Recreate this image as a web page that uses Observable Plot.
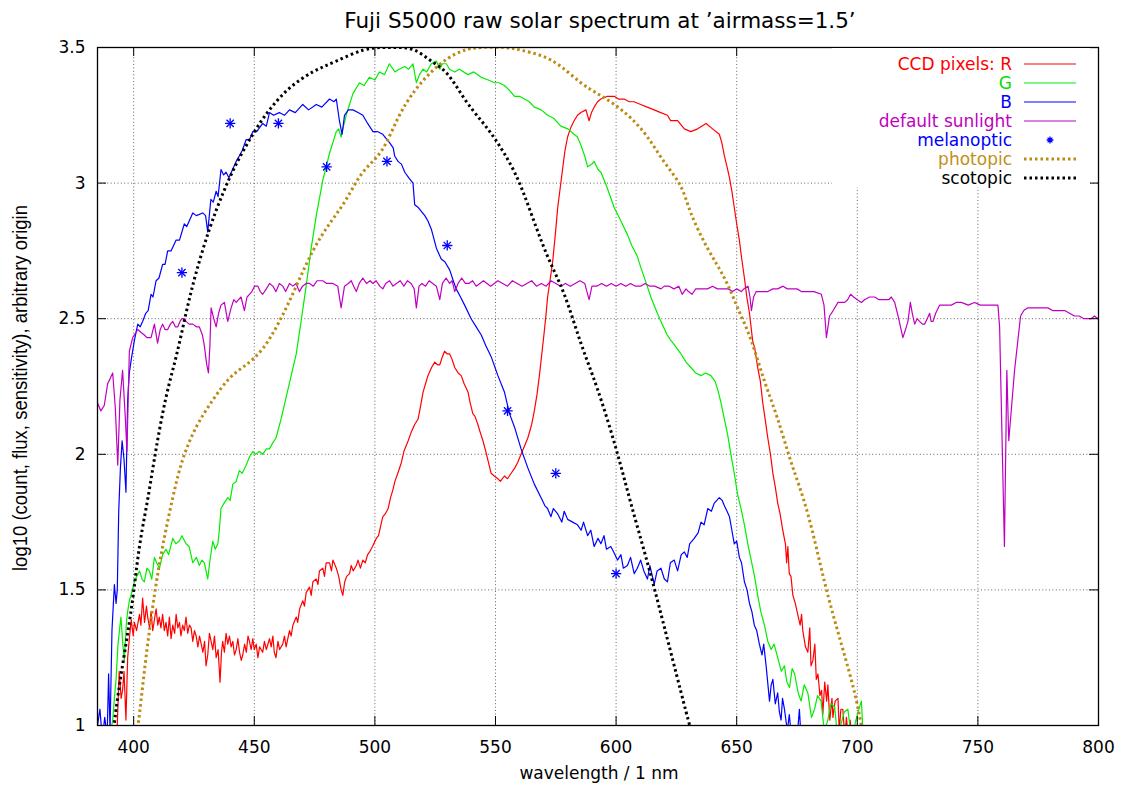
<!DOCTYPE html>
<html><head><meta charset="utf-8">
<script src="https://cdn.jsdelivr.net/npm/d3@7"></script>
<script src="https://cdn.jsdelivr.net/npm/@observablehq/plot@0.6"></script>
<style>
body{margin:0;background:#fff;}
#wrap{position:relative;width:1121px;height:785px;overflow:hidden;font-family:"DejaVu Sans",sans-serif;color:#000;}
#wrap svg{position:absolute;left:0;top:0;}
.abs{position:absolute;white-space:nowrap;}
</style></head>
<body><div id="wrap"></div>
<script>
// ---------- data (wavelength nm, log10 value) ----------
const xTicks = [400,450,500,550,600,650,700,750,800];
const yTicks = [1,1.5,2,2.5,3,3.5];

const ccdR = [[393,0.95],[393.5,1.08],[394,1.20],[394.8,1.10],[395.4,1.13],[396,1.20],[396.8,1.02],[397.5,1.25],[398.2,1.32],[399,1.39],[399.8,1.33],[400.3,1.38],[401.2,1.35],[402.4,1.41],[403,1.37],[403.7,1.47],[404.5,1.38],[405.3,1.44],[405.8,1.40],[406.6,1.36],[407.2,1.42],[407.9,1.35],[408.6,1.39],[409.3,1.43],[410,1.37],[410.6,1.40],[411.3,1.36],[412,1.41],[412.7,1.35],[413.4,1.38],[414.1,1.33],[414.8,1.40],[415.5,1.32],[416.2,1.37],[417,1.34],[417.6,1.41],[418.3,1.36],[419,1.38],[419.6,1.33],[420.3,1.37],[421,1.35],[421.7,1.40],[422.4,1.34],[423.1,1.37],[423.8,1.36],[424.5,1.31],[425.2,1.35],[425.9,1.33],[426.6,1.29],[427.3,1.33],[428,1.30],[428.7,1.27],[429.4,1.31],[430,1.22],[430.7,1.26],[431.4,1.34],[432.1,1.31],[432.8,1.28],[433.5,1.33],[434.2,1.25],[435,1.28],[435.8,1.16],[436.4,1.27],[436.9,1.31],[437.6,1.27],[438.3,1.34],[439,1.30],[439.7,1.33],[440.4,1.29],[441.1,1.31],[441.8,1.26],[442.5,1.28],[443.2,1.32],[443.9,1.27],[444.6,1.24],[445.2,1.26],[446,1.30],[446.7,1.27],[447.4,1.33],[448,1.31],[448.7,1.28],[449.4,1.32],[450,1.28],[450.8,1.30],[451.5,1.25],[452.2,1.29],[453.5,1.27],[454.2,1.31],[455,1.28],[456.3,1.32],[457,1.29],[457.7,1.33],[458.3,1.27],[459,1.25],[459.8,1.31],[460.5,1.28],[461.8,1.30],[462.5,1.33],[463.2,1.29],[464.6,1.35],[465.3,1.33],[466,1.37],[467.4,1.40],[468,1.38],[468.8,1.43],[470.1,1.46],[470.8,1.44],[471.5,1.49],[472.9,1.51],[473.6,1.48],[474.3,1.53],[475.7,1.54],[476.4,1.52],[477,1.57],[478.4,1.58],[479.1,1.55],[479.8,1.60],[481.2,1.60],[482,1.57],[482.6,1.61],[484,1.58],[485,1.55],[486,1.50],[486.7,1.48],[487.5,1.53],[488.3,1.55],[489.5,1.56],[490.2,1.59],[491,1.57],[492.3,1.59],[493,1.61],[494,1.58],[495,1.61],[496,1.60],[497,1.63],[497.8,1.64],[499,1.66],[500.6,1.69],[501.5,1.70],[502.5,1.74],[503.3,1.77],[504.3,1.78],[505.5,1.80],[506.5,1.84],[507.5,1.87],[508.3,1.90],[509.5,1.93],[511,1.97],[512,2.01],[513.8,2.05],[515,2.08],[516.5,2.11],[517.9,2.13],[519,2.18],[520,2.23],[521,2.26],[522,2.29],[523.5,2.32],[524.8,2.34],[526,2.33],[526.9,2.33],[528,2.36],[528.9,2.38],[530,2.37],[531,2.37],[532,2.35],[533.1,2.32],[534.5,2.30],[535.8,2.29],[537,2.26],[538.6,2.23],[539.5,2.19],[540.6,2.15],[541.5,2.14],[542.7,2.11],[543.7,2.08],[544.8,2.05],[546,2.01],[546.8,1.98],[548.2,1.93],[549.5,1.92],[551,1.91],[552,1.90],[553.7,1.92],[555,1.91],[556.5,1.93],[558,1.95],[559.2,1.97],[560.6,2.00],[562,2.03],[563.4,2.06],[565,2.11],[566.1,2.16],[567.2,2.22],[568.2,2.29],[569.2,2.37],[570.2,2.45],[571,2.52],[571.6,2.58],[572.6,2.64],[573.7,2.71],[574.8,2.81],[575.8,2.91],[576.8,2.98],[577.8,3.05],[578.8,3.12],[579.9,3.17],[581,3.20],[582.6,3.23],[584,3.25],[585.4,3.26],[587.5,3.27],[588.8,3.23],[589.8,3.26],[590.9,3.28],[592.3,3.30],[593.7,3.31],[596.4,3.32],[599.2,3.32],[601,3.31],[603.3,3.31],[605.5,3.30],[607.4,3.30],[610.2,3.29],[612.9,3.28],[615.8,3.27],[618.5,3.26],[621.3,3.25],[622.6,3.23],[625.5,3.23],[628.3,3.20],[631,3.19],[633.8,3.20],[635.5,3.21],[637.3,3.22],[640,3.20],[642.8,3.18],[643.8,3.15],[644.9,3.10],[646,3.06],[647,3.02],[648,2.97],[649,2.91],[650,2.85],[651.1,2.79],[652.1,2.72],[653.2,2.65],[654.2,2.58],[655.3,2.52],[656.6,2.42],[657.5,2.39],[658.7,2.32],[659.8,2.27],[660.8,2.19],[661.8,2.13],[662.9,2.06],[664,2.00],[665,1.93],[666,1.88],[667,1.82],[668,1.78],[669.1,1.72],[670.2,1.67],[670.7,1.60],[671.2,1.66],[671.8,1.56],[672.5,1.55],[673.3,1.48],[674.3,1.45],[675.3,1.41],[676.3,1.37],[676.9,1.41],[677.4,1.35],[678.5,1.29],[679.5,1.27],[680.3,1.36],[680.8,1.22],[681.6,1.24],[682.4,1.30],[683,1.17],[683.7,1.19],[684.5,1.11],[685.2,1.13],[685.7,1.04],[686.5,1.16],[687.3,1.09],[687.8,1.15],[688.6,1.02],[689.5,1.10],[689.9,1.03],[690.8,1.09],[692,1.10],[692.5,0.98],[693.2,1.06],[694,1.06],[694.8,0.96],[695.5,1.03],[696.3,0.95],[697,1.02],[698,0.95],[700,0.9],[713.5,0.9],[714,1.0],[714.5,0.9]];

const ccdG = [[390,0.95],[391.3,1.02],[392,1.10],[392.7,1.17],[393.5,1.30],[394.7,1.40],[395.5,1.30],[396.1,1.24],[397,1.38],[397.5,1.42],[398.2,1.46],[398.9,1.48],[400.3,1.53],[401.3,1.55],[402.4,1.57],[403.5,1.54],[404.4,1.53],[405.5,1.58],[406.5,1.57],[407.5,1.54],[408.6,1.62],[409.5,1.60],[410.7,1.58],[412,1.63],[413.4,1.65],[414.5,1.63],[416.2,1.69],[417.5,1.67],[418.9,1.68],[420,1.70],[421.7,1.67],[423,1.66],[424.5,1.60],[426,1.62],[427.2,1.59],[428.3,1.61],[429.3,1.60],[430,1.57],[430.7,1.54],[431.5,1.60],[432.8,1.68],[433.8,1.65],[434.9,1.67],[435.5,1.72],[436.2,1.80],[437.5,1.82],[439,1.84],[440,1.83],[441.1,1.89],[442.5,1.90],[443.8,1.94],[445,1.93],[446.6,1.96],[448,1.99],[449.4,2.01],[450.5,2.00],[452.1,2.01],[453.5,2.00],[455,2.02],[456.3,2.02],[457.5,2.04],[459,2.06],[461.1,2.13],[463.2,2.21],[465.3,2.29],[467.4,2.37],[469.4,2.49],[471.5,2.62],[473.6,2.76],[475.7,2.88],[478.4,3.01],[481.2,3.11],[484,3.19],[485,3.20],[486,3.17],[487,3.21],[488.1,3.25],[490.9,3.33],[493.6,3.37],[495.5,3.36],[497.7,3.39],[500,3.38],[501.9,3.41],[504,3.40],[506,3.44],[508.3,3.41],[510,3.42],[512.4,3.43],[514,3.42],[515.8,3.44],[517.2,3.37],[518.5,3.40],[520,3.42],[521.5,3.41],[523.4,3.44],[525.5,3.45],[526.9,3.42],[528,3.44],[529.6,3.44],[531,3.42],[533.1,3.41],[535,3.42],[538.6,3.40],[541,3.41],[544.1,3.39],[547,3.38],[549.6,3.37],[551.5,3.37],[553.7,3.36],[556,3.34],[557.9,3.32],[560,3.32],[562,3.31],[564,3.30],[566.1,3.28],[569,3.27],[571.6,3.25],[574,3.24],[577.1,3.21],[580,3.20],[582.6,3.18],[584,3.17],[585.4,3.14],[587,3.10],[588.2,3.06],[590,3.07],[590.9,3.08],[592.5,3.05],[593.7,3.04],[596,2.99],[599.2,2.91],[602,2.86],[604.7,2.81],[606.5,2.77],[608.8,2.73],[610.2,2.69],[612.9,2.62],[614.4,2.58],[617.1,2.52],[618.6,2.49],[621.2,2.44],[622.7,2.42],[624.5,2.40],[626.9,2.37],[629,2.34],[631,2.32],[633,2.30],[635.2,2.29],[637,2.30],[639.3,2.29],[641,2.27],[642.1,2.24],[643.5,2.19],[644.9,2.13],[646.3,2.07],[647.6,2.00],[649,1.93],[650.4,1.85],[651.8,1.80],[653.2,1.74],[654.6,1.67],[656,1.61],[657.4,1.55],[658.7,1.48],[660,1.42],[661.5,1.37],[662.9,1.31],[664.3,1.28],[665.5,1.30],[667,1.25],[668.5,1.20],[669.8,1.22],[670.8,1.16],[671.9,1.14],[673,1.21],[674,1.19],[675.5,1.12],[676.7,1.09],[678,1.15],[679.5,1.12],[681,1.03],[682.3,1.06],[683.5,1.11],[685,1.09],[686.3,0.98],[687.8,1.02],[689,1.08],[690.6,1.07],[691.8,0.96],[693.4,1.01],[694.6,1.05],[696.1,1.06],[697.3,0.97],[698.9,1.00],[700.3,1.05],[701.7,1.09],[702.5,0.95],[704,0.9],[706,0.99],[707,0.9],[709.5,0.9],[710.3,0.99],[711,0.9],[715,0.85]];

const ccdB = [[385,1.0],[386,1.06],[387,0.95],[388,1.03],[389,0.96],[389.6,1.19],[390.2,0.98],[391,1.35],[392,1.52],[392.7,1.45],[393.2,1.50],[393.8,1.79],[394.5,1.95],[395.2,2.05],[396,1.98],[396.8,1.86],[397.5,2.2],[398.2,2.3],[399,2.35],[400.3,2.42],[401.7,2.48],[402.7,2.47],[403.7,2.49],[405,2.52],[406,2.53],[407.2,2.59],[408,2.58],[409.3,2.64],[410.5,2.65],[412,2.70],[413,2.70],[414.1,2.75],[415.5,2.75],[417.6,2.79],[419,2.79],[421,2.85],[422,2.84],[424.5,2.89],[426,2.88],[428.6,2.89],[429.8,2.88],[430.7,2.82],[432,2.94],[433,2.93],[434.2,2.97],[435,2.95],[436.2,3.05],[437.3,3.03],[438.3,3.04],[439.5,3.02],[441,3.05],[442.5,3.08],[443.8,3.10],[445,3.12],[446.6,3.16],[448,3.16],[449.4,3.19],[451,3.19],[453.5,3.22],[455,3.21],[456.3,3.26],[458,3.25],[460.4,3.26],[462.5,3.25],[464.6,3.27],[467,3.26],[470.1,3.29],[472.5,3.27],[475.7,3.29],[478,3.28],[481.2,3.31],[483,3.30],[484,3.31],[485.3,3.23],[486.4,3.18],[487.4,3.25],[489,3.27],[490.9,3.27],[493,3.26],[495,3.25],[497,3.22],[499.2,3.19],[501,3.19],[503.3,3.18],[505,3.16],[506,3.15],[507.6,3.13],[508.2,3.10],[509.6,3.08],[511,3.07],[512.4,3.04],[514,3.02],[515.8,3.00],[516.5,2.92],[518,2.91],[520.7,2.88],[522,2.86],[523.4,2.83],[525.5,2.76],[527.5,2.72],[529,2.71],[531,2.68],[532.5,2.64],[533.7,2.61],[535.5,2.58],[537.2,2.55],[539.9,2.50],[542,2.47],[544.1,2.44],[546,2.40],[548.2,2.36],[551,2.29],[553.7,2.23],[555.8,2.15],[557.9,2.10],[560.6,2.02],[563.4,1.95],[566.1,1.89],[568.9,1.84],[570.5,1.81],[571.6,1.80],[573,1.77],[574,1.80],[575.8,1.78],[577.5,1.75],[578.5,1.79],[579.9,1.76],[582,1.75],[584,1.74],[585.5,1.72],[586.5,1.75],[588.2,1.70],[589.5,1.72],[590.9,1.66],[592.5,1.69],[593.7,1.67],[595,1.70],[596,1.65],[597.8,1.66],[599,1.64],[600.6,1.61],[602,1.63],[603,1.58],[604.7,1.59],[606,1.62],[607.5,1.56],[608.8,1.58],[610.2,1.61],[611.5,1.57],[613,1.54],[614,1.59],[615.8,1.52],[617,1.57],[618.6,1.58],[620,1.54],[621.3,1.53],[622.5,1.60],[624.1,1.61],[625.5,1.57],[627,1.63],[628.3,1.64],[629.5,1.62],[630.5,1.67],[632.4,1.69],[634,1.71],[635.2,1.75],[636.5,1.74],[638,1.80],[639.5,1.79],[640.7,1.82],[642.8,1.84],[644,1.83],[644.9,1.81],[646,1.79],[647,1.77],[648,1.72],[649,1.67],[650,1.68],[651.1,1.62],[652,1.60],[653.2,1.53],[654.3,1.50],[655.3,1.45],[656.3,1.42],[657.3,1.37],[658.3,1.35],[659.4,1.30],[660.5,1.26],[661.2,1.30],[662.2,1.22],[663.6,1.09],[664.3,1.15],[665,1.17],[666,1.08],[667,1.12],[667.7,1.05],[668.4,1.02],[669,1.10],[669.8,1.06],[671,0.98],[671.8,1.04],[672.6,0.97],[674,0.9],[675,0.95],[676,1.06],[677,0.9],[680,0.85]];

const sunlight = [[385,2.19],[386.4,2.16],[387.8,2.18],[389.2,2.26],[390.3,2.28],[391.3,2.30],[392.4,2.17],[393.4,1.96],[394.3,2.20],[395.4,2.31],[396.5,2.14],[397.2,2.01],[398.2,2.38],[399.6,2.43],[401.7,2.46],[403,2.45],[404.4,2.44],[405.5,2.43],[407.2,2.43],[408.6,2.48],[409.9,2.41],[411,2.46],[412,2.48],[413,2.46],[414.1,2.46],[415.2,2.48],[416.2,2.49],[417.3,2.47],[418.3,2.47],[419.2,2.49],[420,2.50],[421,2.50],[421.7,2.49],[423,2.48],[424.5,2.48],[426,2.47],[427.2,2.47],[428.5,2.44],[429.3,2.40],[430.3,2.33],[431,2.30],[431.6,2.40],[432.1,2.54],[433.2,2.50],[434.2,2.47],[435.2,2.52],[436.2,2.55],[437.6,2.56],[439,2.49],[440.4,2.54],[441.5,2.57],[442.5,2.56],[443.5,2.57],[444.5,2.58],[445.9,2.53],[447,2.58],[448,2.59],[449,2.60],[450.1,2.62],[451.5,2.62],[452.5,2.60],[453.5,2.59],[455,2.61],[456.3,2.63],[457.7,2.62],[459,2.60],[460.4,2.63],[461.8,2.62],[463,2.60],[464.6,2.63],[466,2.62],[467.3,2.63],[468.7,2.60],[470,2.62],[471.5,2.63],[472.9,2.63],[474.5,2.62],[476,2.64],[478.4,2.64],[480,2.63],[482.6,2.63],[484.6,2.62],[486,2.54],[487.4,2.62],[489,2.63],[490.2,2.64],[491.2,2.62],[492.3,2.60],[493.5,2.63],[495,2.65],[496.5,2.63],[498,2.64],[499.2,2.63],[500.5,2.64],[502,2.62],[503.3,2.61],[504.5,2.63],[506.1,2.64],[507.5,2.62],[508.9,2.63],[510.5,2.64],[512,2.62],[513.5,2.64],[515,2.63],[516.3,2.61],[517.2,2.54],[518.3,2.62],[519.5,2.63],[521,2.62],[522.5,2.64],[524,2.63],[525.5,2.62],[526.9,2.57],[528,2.63],[529.5,2.65],[531,2.63],[532,2.64],[533.1,2.60],[534.5,2.63],[536,2.65],[537.5,2.63],[539,2.63],[540.5,2.64],[542,2.62],[543.5,2.63],[545,2.64],[546.5,2.63],[548,2.62],[549.5,2.63],[551,2.64],[553,2.63],[555,2.62],[557,2.64],[559,2.63],[561,2.62],[563,2.63],[565,2.64],[567,2.62],[569,2.63],[571,2.62],[573,2.64],[575,2.63],[577,2.62],[579,2.63],[581,2.62],[583,2.63],[585,2.64],[587,2.63],[588.8,2.57],[590,2.62],[592,2.62],[594,2.63],[596,2.62],[598,2.63],[600,2.62],[602,2.63],[604,2.62],[606,2.63],[608,2.62],[610.2,2.62],[612,2.63],[614,2.62],[616,2.62],[618.6,2.61],[620,2.62],[622,2.62],[624,2.61],[626,2.62],[627.4,2.59],[629,2.61],[630,2.60],[631.5,2.59],[633,2.61],[635,2.61],[637.9,2.61],[640,2.62],[642,2.61],[644.9,2.61],[646.5,2.61],[648.3,2.60],[650,2.61],[651.9,2.60],[653,2.61],[654.7,2.62],[655.5,2.58],[656.1,2.53],[657,2.58],[658.1,2.60],[660,2.60],[662.9,2.60],[665,2.61],[667,2.61],[669.2,2.62],[671,2.61],[673,2.61],[675,2.61],[676.8,2.60],[679.5,2.60],[682,2.60],[685.1,2.59],[686.2,2.55],[687.2,2.43],[688.5,2.51],[690,2.53],[692,2.56],[693.4,2.56],[694.8,2.56],[696,2.57],[697.2,2.59],[698.5,2.58],[700,2.57],[701.7,2.56],[703,2.57],[705.1,2.58],[707.2,2.58],[709,2.57],[711.3,2.57],[713,2.57],[714.1,2.58],[715.5,2.56],[716.9,2.51],[717.9,2.47],[718.9,2.43],[720,2.46],[721,2.49],[722,2.56],[722.8,2.52],[723.8,2.48],[724.8,2.50],[725.8,2.49],[727,2.48],[727.9,2.48],[729,2.50],[730,2.52],[730.6,2.49],[731.4,2.49],[732.5,2.52],[734.1,2.55],[736,2.55],[739,2.55],[741,2.56],[743.1,2.56],[746,2.55],[748.6,2.56],[751,2.55],[752.8,2.55],[756,2.55],[758.3,2.55],[759,2.47],[761,1.66],[762,2.31],[762.8,2.05],[765.2,2.31],[767.7,2.51],[769,2.53],[770.7,2.54],[773,2.54],[776.2,2.54],[779,2.54],[781,2.53],[783.1,2.53],[786,2.53],[788,2.52],[790,2.51],[792,2.51],[794,2.50],[795.6,2.50],[797,2.50],[798.3,2.51],[799.7,2.50],[800,2.50]];

const melanopticNm  = [420,440,460,480,505,530,555,575,600];
const melanopticVal = [2.67,3.22,3.22,3.06,3.08,2.77,2.16,1.93,1.56];

const photopic = [[401,0.95],[402.5,1.05],[405.1,1.25],[408.6,1.48],[412,1.66],[416.2,1.84],[420.3,1.98],[425.9,2.10],[432.8,2.20],[439.7,2.28],[446.6,2.33],[453.5,2.39],[460.4,2.49],[467.4,2.62],[474.3,2.75],[481.2,2.85],[488.1,2.94],[495,3.04],[502.8,3.12],[509.6,3.24],[516.5,3.34],[523.4,3.41],[530.3,3.46],[537.2,3.49],[544.1,3.50],[553.7,3.50],[560.6,3.49],[568.9,3.47],[577.1,3.43],[585.4,3.37],[592.3,3.33],[599.2,3.29],[606.1,3.24],[613,3.17],[619.8,3.08],[626.7,2.99],[631,2.89],[637.9,2.76],[644.9,2.65],[650.4,2.54],[656,2.42],[661.5,2.27],[667,2.13],[672.6,1.97],[679.5,1.78],[686.4,1.53],[693.4,1.30],[698.9,1.12],[701.7,1.0],[703,0.95]];

const scotopic = [[391.5,0.97],[392.7,1.06],[395,1.20],[398.2,1.38],[400.5,1.53],[402.4,1.66],[404.5,1.77],[406.5,1.87],[409.3,2.02],[413.4,2.21],[417.6,2.36],[421.7,2.52],[425.9,2.67],[431.4,2.83],[436.9,2.96],[442.5,3.07],[449.4,3.18],[456.3,3.27],[464.6,3.35],[474.3,3.41],[484,3.45],[495,3.49],[503,3.50],[509.6,3.50],[516.5,3.49],[523.4,3.45],[530.3,3.40],[537.2,3.31],[544.1,3.23],[550,3.16],[557.9,3.04],[564.7,2.89],[571.6,2.73],[578.5,2.59],[585.4,2.41],[592.3,2.24],[600,2.02],[606.1,1.82],[613,1.60],[619.8,1.37],[626.7,1.13],[630.5,1.0],[632,0.95]];

const titleText = "Fuji S5000 raw solar spectrum at \u2019airmass=1.5\u2019";
const xLabel = "wavelength / 1 nm";
const yLabel = "log10 (count, flux, sensitivity), arbitrary origin";
const legendLabels = ["CCD pixels: R","G","B","default sunlight","melanoptic","photopic","scotopic"];

// ---------- styling ----------
const cR="#ff0000", cG="#00ee00", cB="#0000ff", cSun="#c000c0", cPhot="#bb8a10", cScot="#000000";
const legendColors = [cR,"#00dd00",cB,cSun,cB,"#c09020",cScot];
const legendKinds = ["line","line","line","line","star","dots","dots"];
const legendStroke = [cR,cG,cB,cSun,cB,cPhot,cScot];

const W=1121, H=785, mL=97, mR=23, mT=47, mB=60;
const pw = W-mL-mR, ph = H-mT-mB, tk = 9;

const mel = melanopticNm.map((x,i)=>({x, y: melanopticVal[i]}));
const px = d=>d[0], py = d=>d[1];
const gridStyle = {stroke:"#666", strokeOpacity:1, strokeWidth:1, strokeDasharray:"1,2.4"};

const chart = Plot.plot({
  width: W, height: H, marginLeft: mL, marginRight: mR, marginTop: mT, marginBottom: mB,
  x: {domain: [385, 800]},
  y: {domain: [1, 3.5]},
  style: {fontFamily: "'DejaVu Sans', sans-serif", fontSize: "17px", color: "#000", background: "#fff", overflow: "visible"},
  marks: [
    Plot.gridX(xTicks, gridStyle),
    Plot.gridY(yTicks, gridStyle),
    Plot.line(ccdR, {x: px, y: py, stroke: cR, strokeWidth: 1.2, clip: true}),
    Plot.line(ccdG, {x: px, y: py, stroke: cG, strokeWidth: 1.2, clip: true}),
    Plot.line(ccdB, {x: px, y: py, stroke: cB, strokeWidth: 1.2, clip: true}),
    Plot.line(sunlight, {x: px, y: py, stroke: cSun, strokeWidth: 1.2, clip: true}),
    Plot.dot(mel, {x: "x", y: "y", symbol: "plus", r: 3.4, stroke: cB, strokeWidth: 1.3}),
    Plot.dot(mel, {x: "x", y: "y", symbol: "times", r: 3.4, stroke: cB, strokeWidth: 1.3}),
    Plot.line(photopic, {x: px, y: py, stroke: cPhot, strokeWidth: 3, strokeDasharray: "2.5,3", strokeLinecap: "butt", curve: "natural", clip: true}),
    Plot.line(scotopic, {x: px, y: py, stroke: cScot, strokeWidth: 3, strokeDasharray: "2.5,3", strokeLinecap: "butt", curve: "natural", clip: true}),
    // inward ticks on all four sides
    Plot.ruleX(xTicks, {x: d=>d, insetTop: ph - tk, stroke: "#000"}),
    Plot.ruleX(xTicks, {x: d=>d, insetBottom: ph - tk, stroke: "#000"}),
    Plot.ruleY(yTicks, {y: d=>d, insetRight: pw - tk, stroke: "#000"}),
    Plot.ruleY(yTicks, {y: d=>d, insetLeft: pw - tk, stroke: "#000"}),
    Plot.frame({stroke: "#000", strokeWidth: 1.3}),
    Plot.axisX(xTicks, {tickSize: 0, tickPadding: 15, label: null, tickFormat: d=>String(d)}),
    Plot.axisY(yTicks, {tickSize: 0, tickPadding: 12, label: null, tickFormat: d=>String(d)})
  ]
});

const wrap = document.getElementById("wrap");
wrap.appendChild(chart);

function addDiv(text, css){
  const d = document.createElement("div");
  d.className = "abs";
  d.textContent = text;
  Object.assign(d.style, css);
  wrap.appendChild(d);
  return d;
}
// title
addDiv(titleText, {left: "0px", width: "1200px", textAlign: "center", top: "8px", fontSize: "21.5px", lineHeight: "26px"});
// x label
addDiv(xLabel, {left: "0px", width: "1198px", textAlign: "center", top: "763px", fontSize: "17px", lineHeight: "20px"});
// y label (rotated)
addDiv(yLabel, {left: "21px", top: "388px", fontFamily: "'Liberation Sans', Arial, sans-serif", fontSize: "18.5px", lineHeight: "20px",
  transform: "translate(-50%,-50%) rotate(-90deg) scaleY(1.08)"});

// legend (opaque box)
const box = document.createElement("div");
Object.assign(box.style, {position: "absolute", left: "832px", top: "48px", width: "258px", height: "139px", background: "#fff"});
wrap.appendChild(box);
const rowY0 = 64.2, rowDy = 19;
legendLabels.forEach((lab, i) => {
  const cy = rowY0 + i*rowDy;
  addDiv(lab, {right: (W - 1012) + "px", top: (cy - 10.5) + "px", fontSize: "17px", lineHeight: "20px", color: legendColors[i]});
  const ns = "http://www.w3.org/2000/svg";
  const s = document.createElementNS(ns, "svg");
  s.setAttribute("width", 56); s.setAttribute("height", 12);
  s.style.position = "absolute"; s.style.left = "1022px"; s.style.top = (cy - 6) + "px";
  if (legendKinds[i] === "star") {
    const g = document.createElementNS(ns, "path");
    g.setAttribute("d", "M28,2.6V9.4M24.6,6H31.4M25.6,3.6L30.4,8.4M30.4,3.6L25.6,8.4");
    g.setAttribute("stroke", legendStroke[i]); g.setAttribute("stroke-width", 1.3);
    s.appendChild(g);
  } else {
    const l = document.createElementNS(ns, "line");
    l.setAttribute("x1", 2); l.setAttribute("x2", 54); l.setAttribute("y1", 6); l.setAttribute("y2", 6);
    l.setAttribute("stroke", legendStroke[i]);
    if (legendKinds[i] === "dots") { l.setAttribute("stroke-width", 3); l.setAttribute("stroke-dasharray", "2.5,3"); }
    else l.setAttribute("stroke-width", 1.2);
    s.appendChild(l);
  }
  wrap.appendChild(s);
});
</script>
</body></html>
